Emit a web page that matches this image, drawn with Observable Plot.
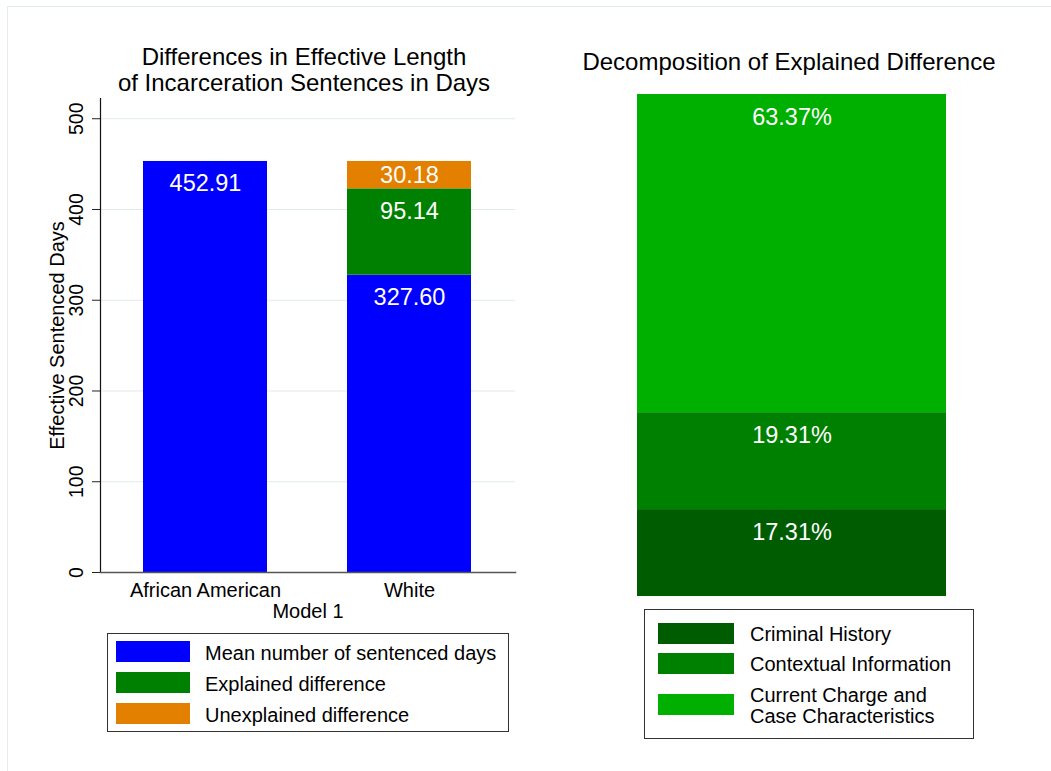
<!DOCTYPE html>
<html>
<head>
<meta charset="utf-8">
<script src="https://cdn.jsdelivr.net/npm/d3@7"></script>
<script src="https://cdn.jsdelivr.net/npm/@observablehq/plot@0.6"></script>
<style>
  html, body { margin: 0; padding: 0; background: #fff; }
  body { font-family: "Liberation Sans", Arial, Helvetica, sans-serif; color: #000; }
  #root { position: relative; width: 1051px; height: 771px; overflow: hidden; background: #fff; }
  .abs { position: absolute; }
  .frame { left: 7px; top: 6px; width: 1200px; height: 900px; border-left: 1px solid #e3ecef; border-top: 1px solid #e3ecef; }
  .title { font-size: 24px; line-height: 26px; text-align: center; white-space: nowrap; }
  .legend { border: 1px solid #333; box-sizing: border-box; background: #fff; }
  .sw { position: absolute; }
  .lt { position: absolute; font-size: 20px; line-height: 20.5px; white-space: nowrap; }
</style>
</head>
<body>
<div id="root"></div>
<script>
// ---------------- data ----------------
const groups = ["African American", "White"];
const seriesNames = ["Mean number of sentenced days", "Explained difference", "Unexplained difference"];
const seriesColors = ["#0000ff", "#008000", "#e38000"];
const africanAmericanValues = [452.91, null, null];
const whiteValues = [327.60, 95.14, 30.18];
const yTicks = [0, 100, 200, 300, 400, 500];
const leftTitle = ["Differences in Effective Length", "of Incarceration Sentences in Days"];
const yTitle = "Effective Sentenced Days";
const xTitle = "Model 1";

const components = ["Criminal History", "Contextual Information", "Current Charge and Case Characteristics"];
const componentLegendLines = [["Criminal History"], ["Contextual Information"], ["Current Charge and", "Case Characteristics"]];
const componentShares = [17.31, 19.31, 63.37];
const componentColors = ["#005c00", "#008000", "#00b000"];
const rightTitle = "Decomposition of Explained Difference";

// ---------------- build tables ----------------
const leftRows = [];
[africanAmericanValues, whiteValues].forEach((vals, i) => {
  let base = 0;
  vals.forEach((v, j) => {
    if (v == null) return;
    leftRows.push({group: groups[i], series: seriesNames[j], value: v, y1: base, y2: base + v});
    base += v;
  });
});
const rightRows = [];
{
  let base = 0;
  components.forEach((c, i) => {
    rightRows.push({component: c, share: componentShares[i], y1: base, y2: base + componentShares[i]});
    base += componentShares[i];
  });
}
const rightTotal = d3.sum(componentShares);

const font = '"Liberation Sans", Arial, Helvetica, sans-serif';
const root = document.getElementById("root");

function addDiv(cls, styles, html) {
  const d = document.createElement("div");
  d.className = cls;
  Object.assign(d.style, styles);
  if (html != null) d.textContent = html;
  root.appendChild(d);
  return d;
}

addDiv("abs frame", {});

// ---------------- left chart ----------------
const yTop = 522.3;
const leftPlot = Plot.plot({
  width: 530,
  height: 630,
  marginLeft: 100,
  marginRight: 15,
  marginTop: 98,
  marginBottom: 58,
  x: {domain: groups, paddingInner: 0.39, paddingOuter: 0.21, axis: null},
  y: {domain: [0, yTop], axis: null},
  color: {domain: seriesNames, range: seriesColors},
  style: {fontFamily: font, fontSize: "20px", color: "#000", background: "transparent", overflow: "visible"},
  marks: [
    Plot.ruleY(yTicks.filter(d => d > 0), {stroke: "#e1eaed", strokeWidth: 1.2}),
    Plot.barY(leftRows, {x: "group", y1: "y1", y2: "y2", fill: "series"}),
    Plot.text(leftRows, {
      x: "group",
      y: d => Math.max(d.y2 - 24.5, (d.y1 + d.y2) / 2),
      text: d => d.value.toFixed(2),
      fill: "white",
      fontSize: 23.5
    }),
    Plot.axisY({ticks: yTicks, tickSize: 8, tickFormat: () => "", stroke: "#222", label: null}),
    Plot.text(yTicks, {y: d => d, text: d => String(d), frameAnchor: "left", textAnchor: "middle", lineAnchor: "middle", rotate: -90, dx: -24, fontSize: 19.5, fill: "#000"}),
    Plot.text([yTitle], {text: d => d, frameAnchor: "left", textAnchor: "middle", lineAnchor: "middle", rotate: -90, dx: -42.5, fontSize: 20, fill: "#000"}),
    Plot.axisX({tickSize: 0, tickPadding: 10, fontSize: 20, label: null, fill: "#000"}),
    Plot.text([xTitle], {text: d => d, frameAnchor: "bottom", lineAnchor: "middle", dy: 39.5, fontSize: 20, fill: "#000"}),
    Plot.frame({anchor: "left", stroke: "#111", strokeWidth: 1.2}),
    Plot.frame({anchor: "bottom", stroke: "#555", strokeWidth: 1.5})
  ]
});
leftPlot.style.position = "absolute";
leftPlot.style.left = "0px";
leftPlot.style.top = "0px";
root.appendChild(leftPlot);

// left title
addDiv("abs title", {left: "104px", top: "44px", width: "400px"}).innerHTML =
  leftTitle.map(s => `<div>${s}</div>`).join("");

// left legend
{
  const box = addDiv("abs legend", {left: "107px", top: "633px", width: "402px", height: "99px"});
  seriesNames.forEach((s, i) => {
    const sw = document.createElement("div");
    sw.className = "sw";
    Object.assign(sw.style, {left: "8px", top: (7 + 31 * i) + "px", width: "74px", height: "21px", background: seriesColors[i]});
    box.appendChild(sw);
    const t = document.createElement("div");
    t.className = "lt";
    Object.assign(t.style, {left: "97px", top: (8.5 + 31 * i) + "px", height: "21px", lineHeight: "21px"});
    t.textContent = s;
    box.appendChild(t);
  });
}

// ---------------- right chart ----------------
const rightPlot = Plot.plot({
  width: 460,
  height: 600,
  marginLeft: 77,
  marginRight: 74,
  marginTop: 94,
  marginBottom: 4,
  x: {axis: null},
  y: {domain: [0, rightTotal], axis: null},
  color: {domain: components, range: componentColors},
  style: {fontFamily: font, fontSize: "20px", background: "transparent", overflow: "visible"},
  marks: [
    Plot.barY(rightRows, {y1: "y1", y2: "y2", fill: "component"}),
    Plot.text(rightRows, {y: "y2", dy: 23, text: d => d.share.toFixed(2) + "%", fill: "white", fontSize: 23.5})
  ]
});
rightPlot.style.position = "absolute";
rightPlot.style.left = "560px";
rightPlot.style.top = "0px";
root.appendChild(rightPlot);

addDiv("abs title", {left: "582px", top: "49px", width: "414px"}, rightTitle);

// right legend
{
  const box = addDiv("abs legend", {left: "644px", top: "609px", width: "330px", height: "130px"});
  const tops = [13, 43, 84];
  components.forEach((c, i) => {
    const sw = document.createElement("div");
    sw.className = "sw";
    Object.assign(sw.style, {left: "13px", top: tops[i] + "px", width: "76px", height: "21px", background: componentColors[i]});
    box.appendChild(sw);
    const lines = componentLegendLines[i];
    const t = document.createElement("div");
    t.className = "lt";
    const h = lines.length * 20.5;
    Object.assign(t.style, {left: "105px", top: (tops[i] + 11.5 - h / 2) + "px"});
    t.innerHTML = lines.map(l => `<div>${l}</div>`).join("");
    box.appendChild(t);
  });
}
</script>
</body>
</html>
